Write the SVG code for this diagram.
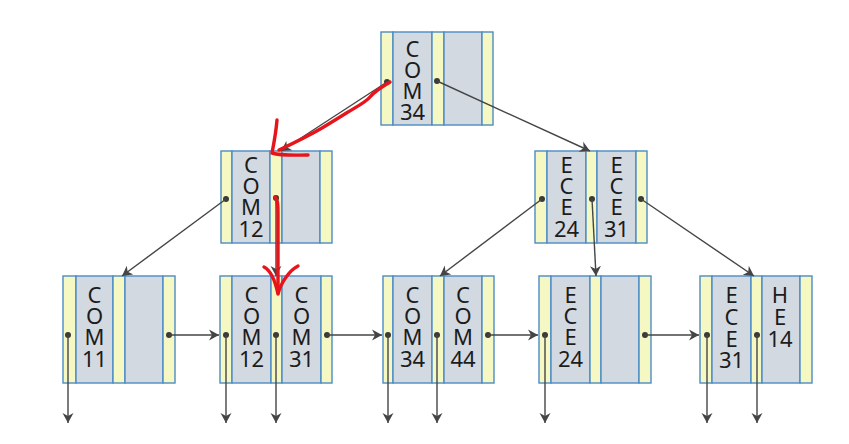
<svg xmlns="http://www.w3.org/2000/svg" width="849" height="444" viewBox="0 0 849 444">
<defs>
<style>
.y{fill:#f6f8c3;stroke:#4c8cc6;stroke-width:1.4}
.g{fill:#d3d9e1;stroke:#4c8cc6;stroke-width:1.4}
.t{font-family:"Noto Sans","Liberation Sans",sans-serif;font-size:22px;fill:#1c1c1c;text-anchor:middle}
.d{fill:#3a3a3a}
.c{stroke:#454545;stroke-width:1.4;fill:none;marker-end:url(#ah)}
.r{stroke:#e8141c;stroke-width:3.4;fill:none;stroke-linecap:round;stroke-linejoin:round}
</style>
<marker id="ah" markerUnits="userSpaceOnUse" markerWidth="12" markerHeight="12" refX="10" refY="6" orient="auto">
<path d="M0,0.5 L10,6 L0,11.5 L3,6 z" fill="#454545"/>
</marker>
</defs>
<rect width="849" height="444" fill="#ffffff"/>

<g id="root">
<rect class="y" x="381" y="32" width="12" height="93"/>
<rect class="g" x="393" y="32" width="39" height="93"/>
<rect class="y" x="432" y="32" width="12" height="93"/>
<rect class="g" x="444" y="32" width="38" height="93"/>
<rect class="y" x="482" y="32" width="11" height="93"/>
<text class="t"><tspan x="412.5" y="57">C</tspan><tspan x="412.5" y="78">O</tspan><tspan x="412.5" y="99">M</tspan><tspan x="412.5" y="120">34</tspan></text>
<circle class="d" cx="387" cy="82" r="3"/>
<circle class="d" cx="437" cy="81" r="3"/>
</g>

<g id="mid-left">
<rect class="y" x="221" y="151" width="11" height="92"/>
<rect class="g" x="232" y="151" width="38" height="92"/>
<rect class="y" x="270" y="151" width="12" height="92"/>
<rect class="g" x="282" y="151" width="38" height="92"/>
<rect class="y" x="320" y="151" width="12" height="92"/>
<text class="t"><tspan x="251" y="173">C</tspan><tspan x="251" y="194">O</tspan><tspan x="251" y="215">M</tspan><tspan x="251" y="237">12</tspan></text>
<circle class="d" cx="226" cy="199" r="3"/>
<circle class="d" cx="276" cy="198" r="3"/>
</g>

<g id="mid-right">
<rect class="y" x="535" y="151" width="12" height="92"/>
<rect class="g" x="547" y="151" width="39" height="92"/>
<rect class="y" x="586" y="151" width="11" height="92"/>
<rect class="g" x="597" y="151" width="39" height="92"/>
<rect class="y" x="636" y="151" width="11" height="92"/>
<text class="t"><tspan x="566.5" y="173">E</tspan><tspan x="566.5" y="194">C</tspan><tspan x="566.5" y="215">E</tspan><tspan x="566.5" y="237">24</tspan></text>
<text class="t"><tspan x="616.5" y="173">E</tspan><tspan x="616.5" y="194">C</tspan><tspan x="616.5" y="215">E</tspan><tspan x="616.5" y="237">31</tspan></text>
<circle class="d" cx="542" cy="199" r="3"/>
<circle class="d" cx="592" cy="199" r="3"/>
<circle class="d" cx="641" cy="199" r="3"/>
</g>

<g id="leaf1">
<rect class="y" x="63" y="276" width="13" height="107"/>
<rect class="g" x="76" y="276" width="37" height="107"/>
<rect class="y" x="113" y="276" width="12" height="107"/>
<rect class="g" x="125" y="276" width="38" height="107"/>
<rect class="y" x="163" y="276" width="12" height="107"/>
<text class="t"><tspan x="94.5" y="303">C</tspan><tspan x="94.5" y="324">O</tspan><tspan x="94.5" y="345">M</tspan><tspan x="94.5" y="367">11</tspan></text>
<circle class="d" cx="68" cy="335" r="3"/>
<circle class="d" cx="169" cy="335" r="3"/>
</g>

<g id="leaf2">
<rect class="y" x="220" y="276" width="12" height="107"/>
<rect class="g" x="232" y="276" width="39" height="107"/>
<rect class="y" x="271" y="276" width="11" height="107"/>
<rect class="g" x="282" y="276" width="39" height="107"/>
<rect class="y" x="321" y="276" width="11" height="107"/>
<text class="t"><tspan x="251.5" y="303">C</tspan><tspan x="251.5" y="324">O</tspan><tspan x="251.5" y="345">M</tspan><tspan x="251.5" y="367">12</tspan></text>
<text class="t"><tspan x="301.5" y="303">C</tspan><tspan x="301.5" y="324">O</tspan><tspan x="301.5" y="345">M</tspan><tspan x="301.5" y="367">31</tspan></text>
<circle class="d" cx="226" cy="335" r="3"/>
<circle class="d" cx="276" cy="335" r="3"/>
<circle class="d" cx="327" cy="335" r="3"/>
</g>

<g id="leaf3">
<rect class="y" x="383" y="276" width="10" height="107"/>
<rect class="g" x="393" y="276" width="39" height="107"/>
<rect class="y" x="432" y="276" width="12" height="107"/>
<rect class="g" x="444" y="276" width="38" height="107"/>
<rect class="y" x="482" y="276" width="12" height="107"/>
<text class="t"><tspan x="412.5" y="303">C</tspan><tspan x="412.5" y="324">O</tspan><tspan x="412.5" y="345">M</tspan><tspan x="412.5" y="367">34</tspan></text>
<text class="t"><tspan x="463" y="303">C</tspan><tspan x="463" y="324">O</tspan><tspan x="463" y="345">M</tspan><tspan x="463" y="367">44</tspan></text>
<circle class="d" cx="388" cy="335" r="3"/>
<circle class="d" cx="437" cy="335" r="3"/>
<circle class="d" cx="488" cy="335" r="3"/>
</g>

<g id="leaf4">
<rect class="y" x="539" y="276" width="12" height="107"/>
<rect class="g" x="551" y="276" width="39" height="107"/>
<rect class="y" x="590" y="276" width="11" height="107"/>
<rect class="g" x="601" y="276" width="38" height="107"/>
<rect class="y" x="639" y="276" width="12" height="107"/>
<text class="t"><tspan x="570.5" y="303">E</tspan><tspan x="570.5" y="324">C</tspan><tspan x="570.5" y="345">E</tspan><tspan x="570.5" y="367">24</tspan></text>
<circle class="d" cx="545" cy="335" r="3"/>
<circle class="d" cx="645" cy="335" r="3"/>
</g>

<g id="leaf5">
<rect class="y" x="700" y="276" width="12" height="107"/>
<rect class="g" x="712" y="276" width="39" height="107"/>
<rect class="y" x="751" y="276" width="11" height="107"/>
<rect class="g" x="762" y="276" width="38" height="107"/>
<rect class="y" x="800" y="276" width="12" height="107"/>
<text class="t"><tspan x="731.5" y="303">E</tspan><tspan x="731.5" y="325">C</tspan><tspan x="731.5" y="347">E</tspan><tspan x="731.5" y="368">31</tspan></text>
<text class="t"><tspan x="780" y="303">H</tspan><tspan x="780" y="325">E</tspan><tspan x="780" y="347">14</tspan></text>
<circle class="d" cx="707" cy="335" r="3"/>
<circle class="d" cx="757" cy="335" r="3"/>
</g>

<g id="connectors">
<line class="c" x1="387" y1="82" x2="281" y2="151"/>
<line class="c" x1="437" y1="81" x2="590" y2="151"/>
<line class="c" x1="226" y1="199" x2="122" y2="276"/>
<line class="c" x1="276" y1="198" x2="276" y2="276"/>
<line class="c" x1="542" y1="199" x2="440" y2="276"/>
<line class="c" x1="592" y1="199" x2="596" y2="276"/>
<line class="c" x1="641" y1="199" x2="754" y2="276"/>
<line class="c" x1="169" y1="335" x2="219" y2="335"/>
<line class="c" x1="327" y1="335" x2="382" y2="335"/>
<line class="c" x1="488" y1="335" x2="538" y2="335"/>
<line class="c" x1="645" y1="335" x2="699" y2="335"/>
<line class="c" x1="68" y1="335" x2="68" y2="423"/>
<line class="c" x1="226" y1="335" x2="226" y2="423"/>
<line class="c" x1="276" y1="335" x2="276" y2="423"/>
<line class="c" x1="388" y1="335" x2="388" y2="423"/>
<line class="c" x1="437" y1="335" x2="437" y2="423"/>
<line class="c" x1="545" y1="335" x2="545" y2="423"/>
<line class="c" x1="707" y1="335" x2="707" y2="423"/>
<line class="c" x1="757" y1="335" x2="757" y2="423"/>
</g>

<g id="annotation">
<path class="r" d="M390,82 C380,88 374,92 370,97 C366,102 358,106 348,112 C340,117 332,122 322,128 C310,135 296,142 279,150"/>
<path class="r" d="M277,120 C276,132 274,143 272,153 C282,156 296,155 308,155"/>
<path class="r" d="M275,197 C278,200 278,206 278,215 L278,293"/>
<path class="r" d="M264,267 C270,270 275,280 278,294 C281,282 290,270 298,266"/>
</g>
</svg>
